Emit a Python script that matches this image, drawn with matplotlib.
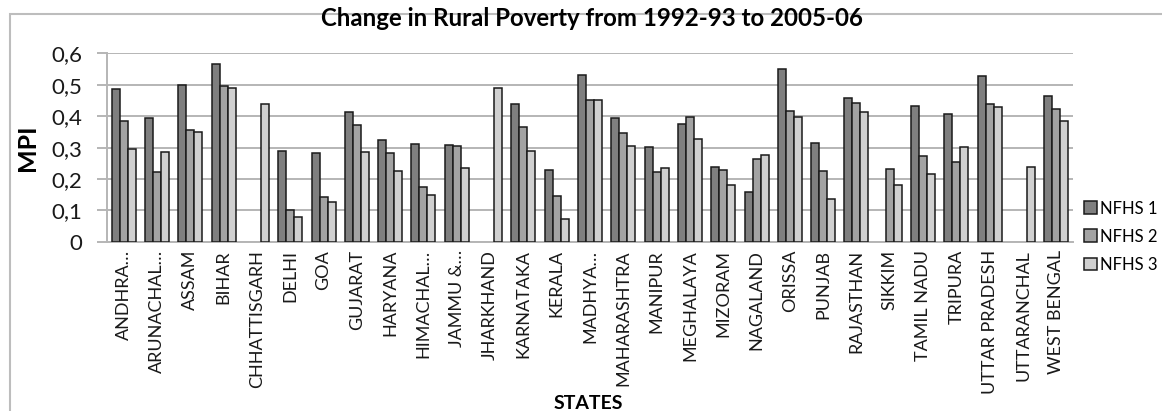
import numpy as np
import matplotlib
matplotlib.use("Agg")
import matplotlib.pyplot as plt
from matplotlib.patches import Rectangle
from matplotlib.ticker import FuncFormatter, MultipleLocator

plt.rcParams['font.family'] = ['Lato', 'DejaVu Sans']

states = ["ANDHRA…", "ARUNACHAL…", "ASSAM", "BIHAR", "CHHATTISGARH", "DELHI",
          "GOA", "GUJARAT", "HARYANA", "HIMACHAL…", "JAMMU &…", "JHARKHAND",
          "KARNATAKA", "KERALA", "MADHYA…", "MAHARASHTRA", "MANIPUR",
          "MEGHALAYA", "MIZORAM", "NAGALAND", "ORISSA", "PUNJAB", "RAJASTHAN",
          "SIKKIM", "TAMIL NADU", "TRIPURA", "UTTAR PRADESH", "UTTARANCHAL",
          "WEST BENGAL"]

nan = np.nan
nfhs1 = [0.486, 0.393, 0.501, 0.566, nan, 0.290, 0.282, 0.413, 0.324, 0.310,
         0.308, nan, 0.438, 0.227, 0.532, 0.395, 0.302, 0.374, 0.239, 0.157,
         0.552, 0.315, 0.459, nan, 0.432, 0.406, 0.527, nan, 0.466]
nfhs2 = [0.385, 0.222, 0.355, 0.496, nan, 0.100, 0.141, 0.371, 0.282, 0.173,
         0.305, nan, 0.365, 0.146, 0.451, 0.347, 0.222, 0.398, 0.227, 0.263,
         0.416, 0.225, 0.442, 0.233, 0.274, 0.253, 0.438, nan, 0.422]
nfhs3 = [0.297, 0.287, 0.349, 0.489, 0.438, 0.078, 0.126, 0.287, 0.226, 0.149,
         0.234, 0.489, 0.289, 0.071, 0.451, 0.305, 0.234, 0.326, 0.181, 0.276,
         0.398, 0.137, 0.415, 0.182, 0.215, 0.302, 0.428, 0.238, 0.384]

series = ["NFHS 1", "NFHS 2", "NFHS 3"]
colors = ["#7f7f7f", "#a3a3a3", "#d0d0d0"]

fig = plt.figure(figsize=(11.62, 4.11), dpi=100)
ax = fig.add_axes([107 / 1162, 1 - 241.7 / 411, 966 / 1162, (241.7 - 53.5) / 411])

# outer chart frame (runs off the right and bottom edge)
fig.patches.append(Rectangle((10 / 1162, -0.05), 1.1, 1 - 14 / 411 + 0.05,
                             transform=fig.transFigure, fill=False,
                             edgecolor="#bdbdbd", linewidth=1.5))

x = np.arange(len(states))
w = 0.24
bars = []
for k, (vals, c) in enumerate(zip([nfhs1, nfhs2, nfhs3], colors)):
    b = ax.bar(x + (k - 1) * w, vals, width=w, color=c, edgecolor="#1a1a1a",
               linewidth=1.1, label=series[k], zorder=3)
    bars.append(b)

ax.set_xlim(-0.5, len(states) - 0.5)
ax.set_ylim(0, 0.6)
ax.yaxis.set_major_locator(MultipleLocator(0.1))
ax.yaxis.set_major_formatter(FuncFormatter(
    lambda v, p: "0" if abs(v) < 1e-9 else f"{v:.1f}".replace(".", ",")))
ax.grid(axis="y", color="#b5b5b5", linewidth=1.4, zorder=0)
ax.set_axisbelow(True)

for s in ["top", "right"]:
    ax.spines[s].set_visible(False)
ax.spines["left"].set_color("#b5b5b5")
ax.spines["left"].set_linewidth(1.4)
ax.spines["bottom"].set_color("#b5b5b5")
ax.spines["bottom"].set_linewidth(1.4)

ax.tick_params(axis="y", length=7, width=1.4, color="#b5b5b5", labelsize=16,
               pad=11, labelcolor="#1a1a1a")
ax.tick_params(axis="x", length=0, pad=6, labelsize=13, labelcolor="#1a1a1a")
ax.set_xticks(x)
ax.set_xticklabels(states, rotation=90, ha="center", va="top")

ax.set_ylabel("MPI", fontsize=18, fontweight="bold")
ax.yaxis.set_label_coords(-0.07, 0.5)
fig.text(588 / 1162, 1 - 403 / 411, "STATES", ha="center", va="center",
         fontsize=14, fontweight="bold")
fig.text(592 / 1162, 1 - 19 / 411, "Change in Rural Poverty from 1992-93 to 2005-06",
         ha="center", va="center", fontsize=17.3, fontweight="bold")

fig.legend(handles=bars, labels=series, loc="upper left",
           bbox_to_anchor=(1077 / 1162, 1 - 194 / 411), frameon=False,
           fontsize=12, handlelength=0.8, handleheight=0.8, handletextpad=0.2,
           labelspacing=0.72, borderaxespad=0)

fig.savefig("out.png", dpi=100)
